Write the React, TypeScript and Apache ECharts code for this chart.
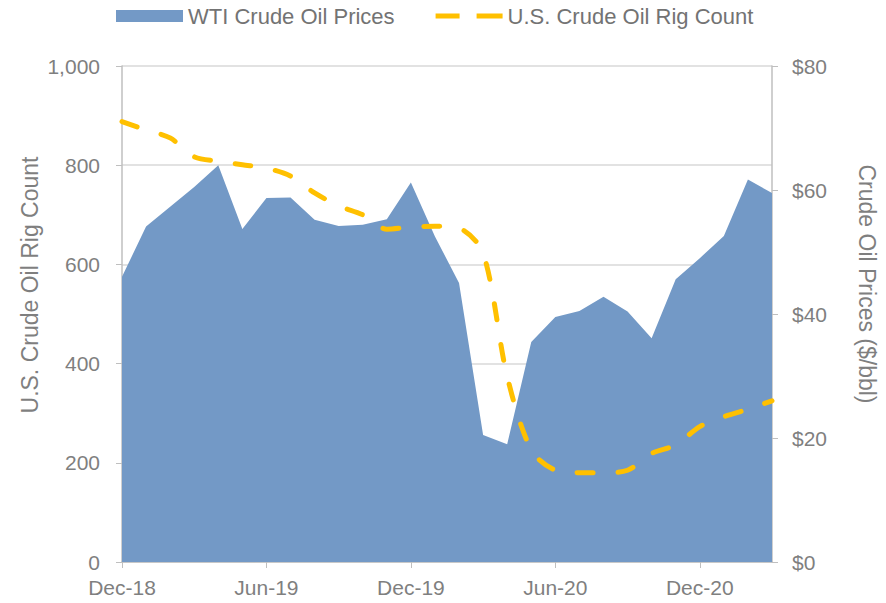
import React, { useEffect, useRef } from "react";
import * as echarts from "echarts";

const months = [
  "Dec-18", "Jan-19", "Feb-19", "Mar-19", "Apr-19", "May-19", "Jun-19",
  "Jul-19", "Aug-19", "Sep-19", "Oct-19", "Nov-19", "Dec-19",
  "Jan-20", "Feb-20", "Mar-20", "Apr-20", "May-20", "Jun-20",
  "Jul-20", "Aug-20", "Sep-20", "Oct-20", "Nov-20", "Dec-20",
  "Jan-21", "Feb-21", "Mar-21",
];

const wtiPrices = [
  46.0, 54.1, 57.3, 60.5, 64.0, 53.7, 58.7, 58.8, 55.2, 54.2, 54.4, 55.3, 61.2,
  52.5, 45.0, 20.5, 19.0, 35.5, 39.5, 40.5, 42.8, 40.4, 36.1, 45.6, 49.0,
  52.6, 61.7, 59.5,
];

const rigCount = [
  888, 871, 855, 817, 808, 801, 794, 778, 744, 718, 700, 671, 675,
  677, 673, 623, 374, 226, 185, 180, 180, 185, 219, 236, 273,
  293, 308, 325,
];

const leftTicks = { min: 0, max: 1000, interval: 200 };
const rightTicks = { min: 0, max: 80, interval: 20 };

const seriesNames = ["WTI Crude Oil Prices", "U.S. Crude Oil Rig Count"];
const axisTitles = ["U.S. Crude Oil Rig Count", "Crude Oil Prices ($/bbl)"];

const FONT = "'Liberation Sans', Arial, sans-serif";
const GREY = "#7f7f7f";
const AXIS = "#bfbfbf";
const DASH_ICON =
  "path://M0,0h0.01v0.01h-0.01z M67,12h-0.01v-0.01h0.01z M0,3.5h24v5h-24z M41,3.5h26v5h-26z";

export default function App() {
  const ref = useRef<HTMLDivElement>(null);
  useEffect(() => {
    if (!ref.current) return;
    const chart = echarts.init(ref.current, undefined, { renderer: "svg" });
    chart.setOption({
      animation: false,
      textStyle: { fontFamily: FONT },
      grid: { left: 122, right: 114, top: 66, bottom: 41, containLabel: false },
      legend: {
        top: 0,
        left: 111,
        itemWidth: 67,
        itemHeight: 12,
        itemGap: 41,
        textStyle: { fontSize: 22, color: "#737373", fontFamily: FONT },
        data: [
          { name: seriesNames[0], icon: "rect" },
          { name: seriesNames[1], icon: DASH_ICON, itemStyle: { color: "#ffc000" } },
        ],
      },
      xAxis: {
        type: "category",
        data: months,
        boundaryGap: false,
        axisLine: { lineStyle: { color: AXIS, width: 1.5 } },
        axisTick: { show: true, interval: 5, length: 6, lineStyle: { color: AXIS } },
        axisLabel: { interval: 5, color: GREY, fontSize: 21, margin: 15, fontFamily: FONT },
        splitLine: { show: false },
      },
      yAxis: [
        {
          type: "value",
          ...leftTicks,
          position: "left",
          axisLine: { show: true, lineStyle: { color: AXIS, width: 1.5 } },
          axisTick: { show: true, length: 6, lineStyle: { color: AXIS } },
          axisLabel: {
            color: GREY,
            fontSize: 21,
            margin: 22,
            fontFamily: FONT,
            formatter: (v: number) => v.toLocaleString("en-US"),
          },
          splitLine: { show: true, lineStyle: { color: "#d9d9d9", width: 1.5 } },
        },
        {
          type: "value",
          ...rightTicks,
          position: "right",
          axisLine: { show: true, lineStyle: { color: AXIS, width: 1.5 } },
          axisTick: { show: true, length: 6, lineStyle: { color: AXIS } },
          axisLabel: {
            color: GREY,
            fontSize: 21,
            margin: 20,
            fontFamily: FONT,
            formatter: (v: number) => "$" + v,
          },
          splitLine: { show: false },
        },
      ],
      graphic: [
        {
          type: "text",
          x: 30,
          y: 285,
          rotation: Math.PI / 2,
          style: {
            text: axisTitles[0],
            fill: GREY,
            font: `23px ${FONT}`,
            align: "center",
            verticalAlign: "middle",
          },
        },
        {
          type: "text",
          x: 867,
          y: 284,
          rotation: -Math.PI / 2,
          style: {
            text: axisTitles[1],
            fill: GREY,
            font: `23px ${FONT}`,
            align: "center",
            verticalAlign: "middle",
          },
        },
      ],
      series: [
        {
          name: seriesNames[0],
          type: "line",
          yAxisIndex: 1,
          data: wtiPrices,
          showSymbol: false,
          symbol: "none",
          lineStyle: { width: 0, color: "#7399c6" },
          itemStyle: { color: "#7399c6" },
          areaStyle: { color: "#7399c6", opacity: 1 },
          z: 2,
        },
        {
          name: seriesNames[1],
          type: "line",
          yAxisIndex: 0,
          data: rigCount,
          showSymbol: false,
          symbol: "none",
          smooth: 0.3,
          itemStyle: { color: "#ffc000" },
          lineStyle: { color: "#ffc000", width: 5, type: [16, 25], cap: "round" },
          z: 3,
        },
      ],
    });
    return () => chart.dispose();
  }, []);
  return (
    <div
      ref={ref}
      style={{ position: "fixed", left: 0, top: 0, width: 886, height: 603, background: "#fff" }}
    />
  );
}
